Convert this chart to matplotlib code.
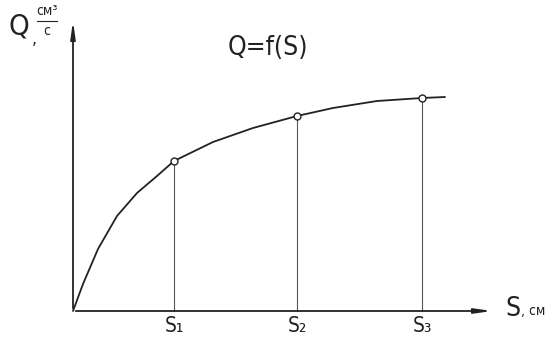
import matplotlib.pyplot as plt
import numpy as np

# curve Q = f(S) (arbitrary units)
curve_s = [0.0, 0.10, 0.25, 0.44, 0.64, 0.84, 1.01, 1.40, 1.80, 2.24, 2.60, 3.04, 3.49, 3.72]
curve_q = [0.0, 0.27, 0.62, 0.95, 1.18, 1.35, 1.50, 1.69, 1.83, 1.95, 2.03, 2.10, 2.13, 2.14]

# marked operating points
mark_s = [1.01, 2.24, 3.49]
mark_q = [1.50, 1.95, 2.13]
mark_labels = ["S₁", "S₂", "S₃"]

ink = "#222222"
font = dict(family="DejaVu Sans", stretch="condensed", color=ink)

fig = plt.figure(figsize=(5.6, 3.53), dpi=100)
ax = fig.add_axes([0, 0, 1, 1])
ax.set_xlim(-0.73, 4.87)
ax.set_ylim(-0.42, 3.11)
ax.axis("off")

# axes with arrows
ax.annotate("", xy=(4.22, 0), xytext=(0, 0),
            arrowprops=dict(arrowstyle="-|>,head_length=1.0,head_width=0.14", color=ink, lw=1.3))
ax.annotate("", xy=(0, 2.93), xytext=(0, 0),
            arrowprops=dict(arrowstyle="-|>,head_length=1.0,head_width=0.14", color=ink, lw=1.3))

# curve
ax.plot(curve_s, curve_q, color=ink, lw=1.3, solid_capstyle="round", solid_joinstyle="round")

# verticals and points
for s, q, lab in zip(mark_s, mark_q, mark_labels):
    ax.plot([s, s], [0, q], color="#555555", lw=0.8)
    ax.text(s, -0.05, lab, ha="center", va="top", fontsize=15, **font)
ax.plot(mark_s, mark_q, "o", ms=5, mfc="white", mec=ink, mew=1.0, zorder=5)

# axis labels
ax.text(4.32, 0.02, "S", ha="left", va="center", fontsize=19, **font)
ax.text(4.48, 0.0, ", см", ha="left", va="center", fontsize=10, **font)

ax.text(-0.64, 2.85, "Q", ha="left", va="center", fontsize=21, **font)
ax.text(-0.41, 2.72, ",", ha="left", va="center", fontsize=13, **font)
ax.text(-0.26, 3.0, "см³", ha="center", va="center", fontsize=10, **font)
ax.plot([-0.36, -0.16], [2.90, 2.90], color=ink, lw=0.8)
ax.text(-0.26, 2.80, "с", ha="center", va="center", fontsize=10, **font)

ax.text(1.95, 2.63, "Q=f(S)", ha="center", va="center", fontsize=19, **font)

fig.savefig("out.png", dpi=100)
